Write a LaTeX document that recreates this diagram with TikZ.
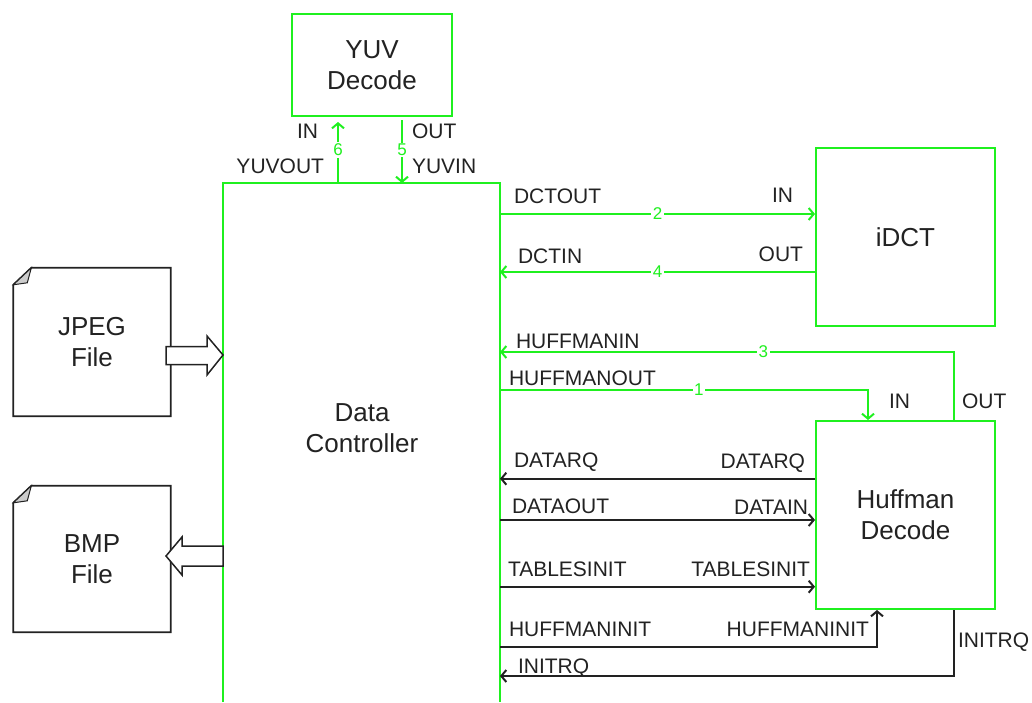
\documentclass[tikz,border=0pt]{standalone}
\usepackage{fontspec}
\setmainfont{Liberation Sans}
\usepackage{tikz}
\usetikzlibrary{arrows.meta,positioning}
\definecolor{wiregreen}{HTML}{1FF01F}
\definecolor{ink}{HTML}{222222}

\begin{document}
\begin{tikzpicture}[x=1pt,y=-1pt,>={Straight Barb[length=5pt,width=12pt]},
  lbl/.style={font=\fontsize{21}{21}\selectfont,inner sep=0pt,text=ink},
  title/.style={font=\fontsize{26}{31}\selectfont,align=center,text=ink},
  num/.style={font=\fontsize{17}{17}\selectfont,text=wiregreen,fill=white,inner sep=1.5pt},
  unit/.style={draw=wiregreen,line width=2pt,fill=white,title},
  file/.style={title,minimum width=157pt,minimum height=148pt},
  gwire/.style={draw=wiregreen,line width=2pt},
  ctl/.style={draw=ink,line width=2pt},
  fat/.style={draw=ink,line width=1.5pt,fill=white,line join=miter}]
  \useasboundingbox (0,0) rectangle (1032,702);

  % blocks
  \node[unit,minimum width=160pt,minimum height=102pt] (yuv) at (372,65) {YUV\\Decode};
  \node[unit,minimum width=179pt,minimum height=178pt] (idct) at (905.5,237) {iDCT};
  \node[unit,minimum width=179pt,minimum height=188pt] (huff) at (905.5,515) {Huffman\\Decode};
  \node[file] (jpeg) at (92,342) {JPEG\\File};
  \node[file,minimum height=146pt] (bmp) at (92,559) {BMP\\File};
  \node[title] (dc) at (362,428) {Data\\Controller};

  % data controller, open at the bottom
  \coordinate (dcNW) at (223,183);
  \coordinate (dcNE) at (500,183);
  \draw[gwire] (dcNW |- 0,702) -- (dcNW) -- (dcNE) -- (dcNE |- 0,702);

  % files with folded corner
  \foreach \f in {jpeg,bmp}{
    \draw[ink,line width=1.8pt,line join=miter] (\f.south west) -- ([yshift=-17pt]\f.north west) -- ([xshift=18pt]\f.north west) -- (\f.north east) -- (\f.south east) -- cycle;
    \filldraw[draw=ink,fill=gray!40,line width=1pt] ([xshift=18pt]\f.north west) -- ([xshift=14pt,yshift=-15pt]\f.north west) -- ([yshift=-17pt]\f.north west) -- cycle;
  }
  \draw[fat] (dcNW |- 0,355) -- ++(-16,-19) -- ++(0,10.5) -- ++(-41,0) -- ++(0,18) -- ++(41,0) -- ++(0,10.5) -- cycle;
  \draw[fat] (dcNW |- 0,546) -- ++(-41,0) -- ++(0,-9) -- ++(-16,19) -- ++(16,19) -- ++(0,-9) -- ++(41,0) -- cycle;

  % YUV decode
  \draw[gwire,->,shorten >=5pt] (dcNW -| 338,0) -- node[num]{6} (yuv.south -| 338,0)
    node[lbl,pos=1,anchor=base east,shift={(-19,21)}] {IN}
    node[lbl,pos=0,anchor=base east,shift={(-13,-10)}] {YUVOUT};
  \draw[gwire,->,shorten <=3pt] (yuv.south -| 402,0) -- node[num]{5} (dcNE -| 402,0)
    node[lbl,pos=0,anchor=base west,shift={(9,21)}] {OUT}
    node[lbl,pos=1,anchor=base west,shift={(9,-10)}] {YUVIN};

  % iDCT
  \draw[gwire,->] (dcNE |- 0,214) -- node[num]{2} (idct.west |- 0,214)
    node[lbl,pos=0,anchor=base west,shift={(13,-11)}] {DCTOUT}
    node[lbl,pos=1,anchor=base east,shift={(-21,-12)}] {IN};
  \draw[gwire,->] (idct.west |- 0,272) -- node[num]{4} (dcNE |- 0,272)
    node[lbl,pos=0,anchor=base east,shift={(-11,-11)}] {OUT}
    node[lbl,pos=1,anchor=base west,shift={(17,-9)}] {DCTIN};

  % Huffman decode
  \draw[gwire,->] (huff.north -| 954,0) |- node[num,pos=0.71]{3} (dcNE |- 0,352)
    node[lbl,pos=0,anchor=base west,shift={(7,-11.7)}] {OUT}
    node[lbl,pos=1,anchor=base west,shift={(15,-4)}] {HUFFMANIN};
  \draw[gwire,->] (dcNE |- 0,390) -| node[num,pos=0.27]{1} (huff.north -| 868,0)
    node[lbl,pos=0,anchor=base west,shift={(8,-5)}] {HUFFMANOUT}
    node[lbl,pos=1,anchor=base west,shift={(20,-11.7)}] {IN};
  \draw[ctl,->] (huff.west |- 0,478.7) -- (dcNE |- 0,478.7)
    node[lbl,pos=0,anchor=base east,shift={(-9,-10)}] {DATARQ}
    node[lbl,pos=1,anchor=base west,shift={(13,-11)}] {DATARQ};
  \draw[ctl,->] (dcNE |- 0,520) -- (huff.west |- 0,520)
    node[lbl,pos=0,anchor=base west,shift={(11,-7)}] {DATAOUT}
    node[lbl,pos=1,anchor=base east,shift={(-6,-6)}] {DATAIN};
  \draw[ctl,->] (dcNE |- 0,586.7) -- (huff.west |- 0,586.7)
    node[lbl,pos=0,anchor=base west,shift={(7,-10)}] {TABLESINIT}
    node[lbl,pos=1,anchor=base east,shift={(-4,-10)}] {TABLESINIT};
  \draw[ctl,->] (dcNE |- 0,646.7) -| (huff.south -| 877,0)
    node[lbl,pos=0,anchor=base west,shift={(8,-10)}] {HUFFMANINIT}
    node[lbl,pos=0.5,anchor=base east,shift={(-7,-10)}] {HUFFMANINIT};
  \draw[ctl,->] (huff.south -| 954,0) |- (dcNE |- 0,676)
    node[lbl,pos=0,anchor=base west,shift={(3,37)}] {INITRQ}
    node[lbl,pos=1,anchor=base west,shift={(17,-3)}] {INITRQ};
\end{tikzpicture}
\end{document}
